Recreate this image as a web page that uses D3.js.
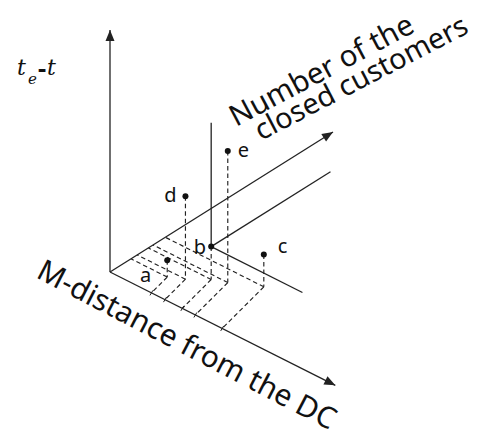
<!DOCTYPE html>
<html><head><meta charset="utf-8">
<script src="https://cdn.jsdelivr.net/npm/d3@7"></script>
<style>html,body{margin:0;padding:0;background:#fff;} svg{display:block;}</style>
</head><body>
<script>
// ---- data ----
const pointLabels = ["a", "b", "c", "d", "e"];
const mDistance = [1.84, 3.21, 4.98, 2.44, 3.79];        // where the dashed line meets the M-distance axis
const closedCustomers = [0.94, 1.72, 2.48, 1.22, 1.93];  // where the dashed line meets the customers axis
const timeSlack = [0.70, 1.36, 1.34, 3.43, 5.44];        // t_e - t (height)
const axisMax = [10, 10, 10];
const mAxisTitle = "M-distance from the DC";
const nAxisTitle = ["Number of the", "closed customers"];
const zAxisTitle = ["t", "e", "-", "t"];
const guidePoint = "b";
const guideLengths = [4.05, 5.35, 5.12];                 // along M, along customers, upward

// ---- layout ----
const W = 478, H = 439;
const svg = d3.select("body").append("svg").attr("width", W).attr("height", H);
const origin = [110, 272];
const mScale = d3.scaleLinear().domain([0, axisMax[0]]).range([0, 225.3]);
const nScale = d3.scaleLinear().domain([0, axisMax[1]]).range([0, 223]);
const zScale = d3.scaleLinear().domain([0, axisMax[2]]).range([0, 242]);
const mSlope = 0.503, nSlope = -0.628;
const ink = "#222";

const mPt = m => { const d = mScale(m); return [origin[0] + d, origin[1] + mSlope * d]; };
const nPt = n => { const d = nScale(n); return [origin[0] + d, origin[1] + nSlope * d]; };
const zPt = z => [origin[0], origin[1] - zScale(z)];
function foot(m, n) {
  const X = mPt(m), Y = nPt(n);
  const r = (X[1] - Y[1] - mSlope * (X[0] - Y[0])) / (1 + mSlope);
  return [X[0] + r, X[1] - r];
}
const line = d3.line();

function arrow(from, to) {
  svg.append("path").attr("d", line([from, to])).attr("stroke", ink).attr("stroke-width", 1.3).attr("fill", "none");
  const dx = to[0] - from[0], dy = to[1] - from[1], L = Math.hypot(dx, dy);
  const ux = dx / L, uy = dy / L, len = 11, hw = 4.5;
  const b = [to[0] - ux * len, to[1] - uy * len];
  svg.append("path").attr("d", line([to, [b[0] - uy * hw, b[1] + ux * hw], [b[0] + uy * hw, b[1] - ux * hw]]) + "Z")
    .attr("fill", ink);
}

const pts = pointLabels.map((k, i) => {
  const f = foot(mDistance[i], closedCustomers[i]);
  return { k, m: mDistance[i], n: closedCustomers[i], h: timeSlack[i], f, p: [f[0], f[1] - zScale(timeSlack[i])] };
});

// dashed projections
const dashG = svg.append("g").attr("stroke", ink).attr("stroke-width", 1.15)
  .attr("stroke-dasharray", "4.5,3").attr("fill", "none");
pts.forEach(d => {
  dashG.append("path").attr("d", line([d.f, nPt(d.n)]));
  dashG.append("path").attr("d", line([d.f, mPt(d.m)]));
  dashG.append("path").attr("d", line([d.p, d.f]));
});

// small ticks where dashed lines meet the M axis
pts.forEach(d => {
  const q = mPt(d.m);
  svg.append("path").attr("d", line([[q[0] - 1.5, q[1] + 2.5], [q[0] + 1.5, q[1] - 2.5]]))
    .attr("stroke", ink).attr("stroke-width", 1);
});

// axes
arrow(origin, zPt(axisMax[2]));
arrow(origin, nPt(axisMax[1]));
arrow(origin, mPt(axisMax[0]));

// guide lines through b
const g = pts.find(d => d.k === guidePoint);
const gm = mScale(guideLengths[0]), gn = nScale(guideLengths[1]);
const guide = [
  [g.p, [g.p[0] + gm, g.p[1] + mSlope * gm]],
  [g.p, [g.p[0] + gn, g.p[1] + nSlope * gn]],
  [g.p, [g.p[0], g.p[1] - zScale(guideLengths[2])]]
];
guide.forEach(s => svg.append("path").attr("d", line(s)).attr("stroke", ink).attr("stroke-width", 1.3).attr("fill", "none"));

// points
svg.selectAll("circle.pt").data(pts).join("circle").attr("class", "pt")
  .attr("cx", d => d.p[0]).attr("cy", d => d.p[1]).attr("r", 3).attr("fill", "#111");

const labelOffsets = { a: [-16, 22, "end"], b: [-5, 7, "end"], c: [14, -1, "start"], d: [-9, 6, "end"], e: [10, 6, "start"] };
svg.selectAll("text.pl").data(pts).join("text").attr("class", "pl")
  .attr("x", d => d.p[0] + labelOffsets[d.k][0]).attr("y", d => d.p[1] + labelOffsets[d.k][1])
  .attr("text-anchor", d => labelOffsets[d.k][2])
  .attr("font-family", "'Noto Sans', 'Open Sans', sans-serif").attr("font-size", 20).attr("fill", "#111")
  .text(d => d.k);

// axis titles
function fitText(sel, target) {
  const l = sel.node().getComputedTextLength();
  const fs = parseFloat(sel.attr("font-size"));
  sel.attr("font-size", fs * target / l);
}
const tf = "'Noto Sans', 'Open Sans', sans-serif";
const t1 = svg.append("text").attr("transform", "translate(236,127) rotate(-28)")
  .attr("font-family", tf).attr("font-size", 24).attr("fill", "#111").text(nAxisTitle[0]);
fitText(t1, 204);
const t2 = svg.append("text").attr("transform", "translate(261,141) rotate(-27.5)")
  .attr("font-family", tf).attr("font-size", 24).attr("fill", "#111").text(nAxisTitle[1]);
fitText(t2, 236);
const t3 = svg.append("text").attr("transform", "translate(35,277) rotate(27.5)")
  .attr("font-family", tf).attr("font-size", 24).attr("fill", "#111").text(mAxisTitle);
fitText(t3, 332);

// t_e - t
const sf = "'DejaVu Serif', 'Liberation Serif', serif";
const tt = svg.append("text").attr("y", 75)
  .attr("font-family", sf).attr("font-style", "italic").attr("font-size", 22).attr("fill", "#111");
tt.append("tspan").attr("x", 17).text(zAxisTitle[0]);
tt.append("tspan").attr("x", 28).attr("dy", 9).attr("font-size", 15).text(zAxisTitle[1]);
tt.append("tspan").attr("x", 37.5).attr("dy", -7).attr("font-style", "normal").attr("font-weight", "bold").text(zAxisTitle[2]);
tt.append("tspan").attr("x", 47).attr("dy", -2).text(zAxisTitle[3]);
</script>
</body></html>
